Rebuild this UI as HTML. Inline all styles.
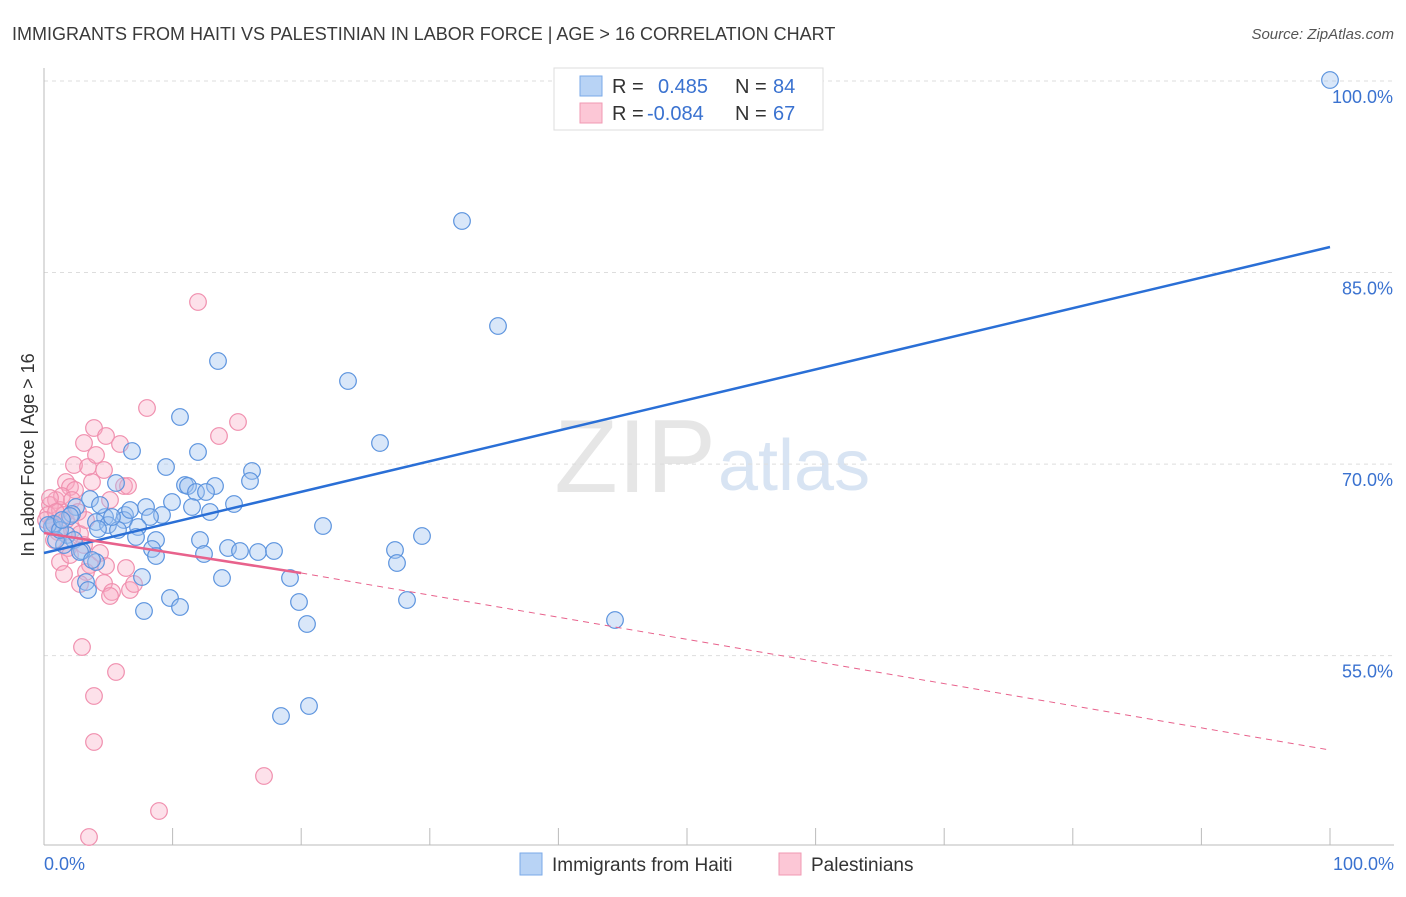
<!DOCTYPE html>
<html><head><meta charset="utf-8"><style>
body{margin:0;background:#fff;font-family:"Liberation Sans",sans-serif}
svg text{font-family:"Liberation Sans",sans-serif}
</style></head><body>
<svg id="c" width="1406" height="892" xmlns="http://www.w3.org/2000/svg">
<text x="12" y="40" font-size="18" fill="#3a3a3a">IMMIGRANTS FROM HAITI VS PALESTINIAN IN LABOR FORCE | AGE &gt; 16 CORRELATION CHART</text>
<text x="1394" y="39" font-size="15" fill="#555" font-style="italic" text-anchor="end">Source: ZipAtlas.com</text>
<text x="716" y="492" font-size="104" fill="#e6e6e6" text-anchor="end" font-family="Liberation Serif">ZIP</text>
<text x="718" y="490" font-size="72" fill="#d8e4f3">atlas</text>
<g id="grid"></g><g id="pts"></g><g id="lines"></g>
<text transform="translate(34,455) rotate(-90)" font-size="18" fill="#333" text-anchor="middle">In Labor Force | Age &gt; 16</text>
<g>
<rect x="554" y="68" width="269" height="62" fill="#fff" stroke="#ddd"/>
<rect x="580" y="76" width="22" height="20" fill="#b8d3f5" stroke="#7aaae8"/>
<rect x="580" y="103" width="22" height="20" fill="#fcc7d6" stroke="#f09ab3"/>
<text x="612" y="93" font-size="20" fill="#333">R =</text><text x="658" y="93" font-size="20" fill="#3a72d0">0.485</text>
<text x="735" y="93" font-size="20" fill="#333">N =</text><text x="773" y="93" font-size="20" fill="#3a72d0">84</text>
<text x="612" y="120" font-size="20" fill="#333">R =</text><text x="647" y="120" font-size="20" fill="#3a72d0">-0.084</text>
<text x="735" y="120" font-size="20" fill="#333">N =</text><text x="773" y="120" font-size="20" fill="#3a72d0">67</text>
</g>
<g>
<rect x="520" y="853" width="22" height="22" fill="#b8d3f5" stroke="#7aaae8"/>
<text x="552" y="871" font-size="19" fill="#333">Immigrants from Haiti</text>
<rect x="779" y="853" width="22" height="22" fill="#fcc7d6" stroke="#f09ab3"/>
<text x="811" y="871" font-size="19" fill="#333">Palestinians</text>
</g>
</svg>
<script>
const yTicks=[100,85,70,55];
const xTickLabels=["0.0%","100.0%"];
const blueXpx=[1330,462,498,218,348,180,380,132,198,166,252,250,185,188,196,215,206,116,90,172,146,234,192,210,162,150,125,105,76,72,96,108,124,138,98,118,70,52,54,67,74,136,156,200,228,240,258,274,204,152,156,82,64,56,96,86,142,170,180,144,222,290,299,307,323,395,397,422,407,615,281,309,48,60,80,92,112,130,100,62,88];
const blueYpx=[80,221,326,361,381,417,443,451,452,467,471,481,485,486,492,486,492,483,499,502,507,504,507,512,515,517,515,517,507,514,522,525,520,527,529,530,516,527,524,535,540,537,540,540,548,551,552,551,554,549,556,551,545,540,562,582,577,598,607,611,578,578,602,624,526,550,563,536,600,620,716,706,525,530,552,560,517,510,505,520,590];
const pinkXpx=[198,147,238,94,106,219,120,84,74,88,66,70,92,124,110,56,50,48,60,52,46,58,72,80,68,60,64,90,100,106,86,80,104,112,126,130,134,110,82,116,94,94,264,159,89,75,62,96,104,54,70,128,64,50,56,66,72,84,86,78];
const pinkYpx=[302,408,422,428,436,436,444,443,465,467,482,487,482,486,500,500,505,515,510,525,520,532,530,534,548,562,574,565,553,566,572,584,583,592,568,590,584,596,647,672,696,742,776,811,837,490,496,455,470,540,555,486,515,498,512,520,500,545,520,512];
const toX=p=>(p-44)/12.86, toY=p=>100-(p-81)/12.77;
const blueX=blueXpx.map(toX), blueY=blueYpx.map(toY);
const pinkX=pinkXpx.map(toX), pinkY=pinkYpx.map(toY);
const X=v=>44+v*12.86, Y=v=>81+(100-v)*12.77;
const NS="http://www.w3.org/2000/svg";
function mk(t,a,p){const e=document.createElementNS(NS,t);for(const k in a)e.setAttribute(k,a[k]);p.appendChild(e);return e;}
const grid=document.getElementById('grid');
yTicks.forEach(v=>{
 const l=mk('line',{x1:44,x2:1394,y1:Y(v),y2:Y(v),stroke:'#ddd','stroke-dasharray':'4,4'},grid);
 
 
 const t=mk('text',{x:1393,y:Y(v)+22,'font-size':18,fill:'#3a72d0','text-anchor':'end'},grid);
 t.textContent=v.toFixed(1)+'%';
 
 
});
mk('line',{x1:44,x2:44,y1:68,y2:845,stroke:'#bbb'},grid);
mk('line',{x1:44,x2:1394,y1:845,y2:845,stroke:'#bbb'},grid);
for(let i=0;i<=10;i++){mk('line',{x1:X(i*10),x2:X(i*10),y1:828,y2:845,stroke:'#bbb'},grid);}
const t0=mk('text',{x:44,y:870,'font-size':18,fill:'#3a72d0'},grid);t0.textContent=xTickLabels[0];


const t1=mk('text',{x:1394,y:870,'font-size':18,fill:'#3a72d0','text-anchor':'end'},grid);t1.textContent=xTickLabels[1];


const pts=document.getElementById('pts');
pinkX.forEach((x,i)=>{const c=mk('circle',{cx:X(x),cy:Y(pinkY[i]),r:8.3,fill:'rgba(248,170,195,0.35)',stroke:'#f08fae','stroke-width':1.2},pts);
 
 });
blueX.forEach((x,i)=>{const c=mk('circle',{cx:X(x),cy:Y(blueY[i]),r:8.3,fill:'rgba(160,196,240,0.4)',stroke:'#5b93de','stroke-width':1.2},pts);
 
 });
const lines=document.getElementById('lines');
const bl=mk('line',{x1:X(0),y1:Y(toY(553)),x2:X(100),y2:Y(toY(247)),stroke:'#2a6fd6','stroke-width':2.5},lines);


const pl=mk('line',{x1:X(0),y1:533,x2:X(20),y2:573,stroke:'#e8628c','stroke-width':2.5},lines);


const pd=mk('line',{x1:X(20),y1:573,x2:X(100),y2:750,stroke:'#e8628c','stroke-width':1,'stroke-dasharray':'6,5'},lines);


</script>
</body></html>
